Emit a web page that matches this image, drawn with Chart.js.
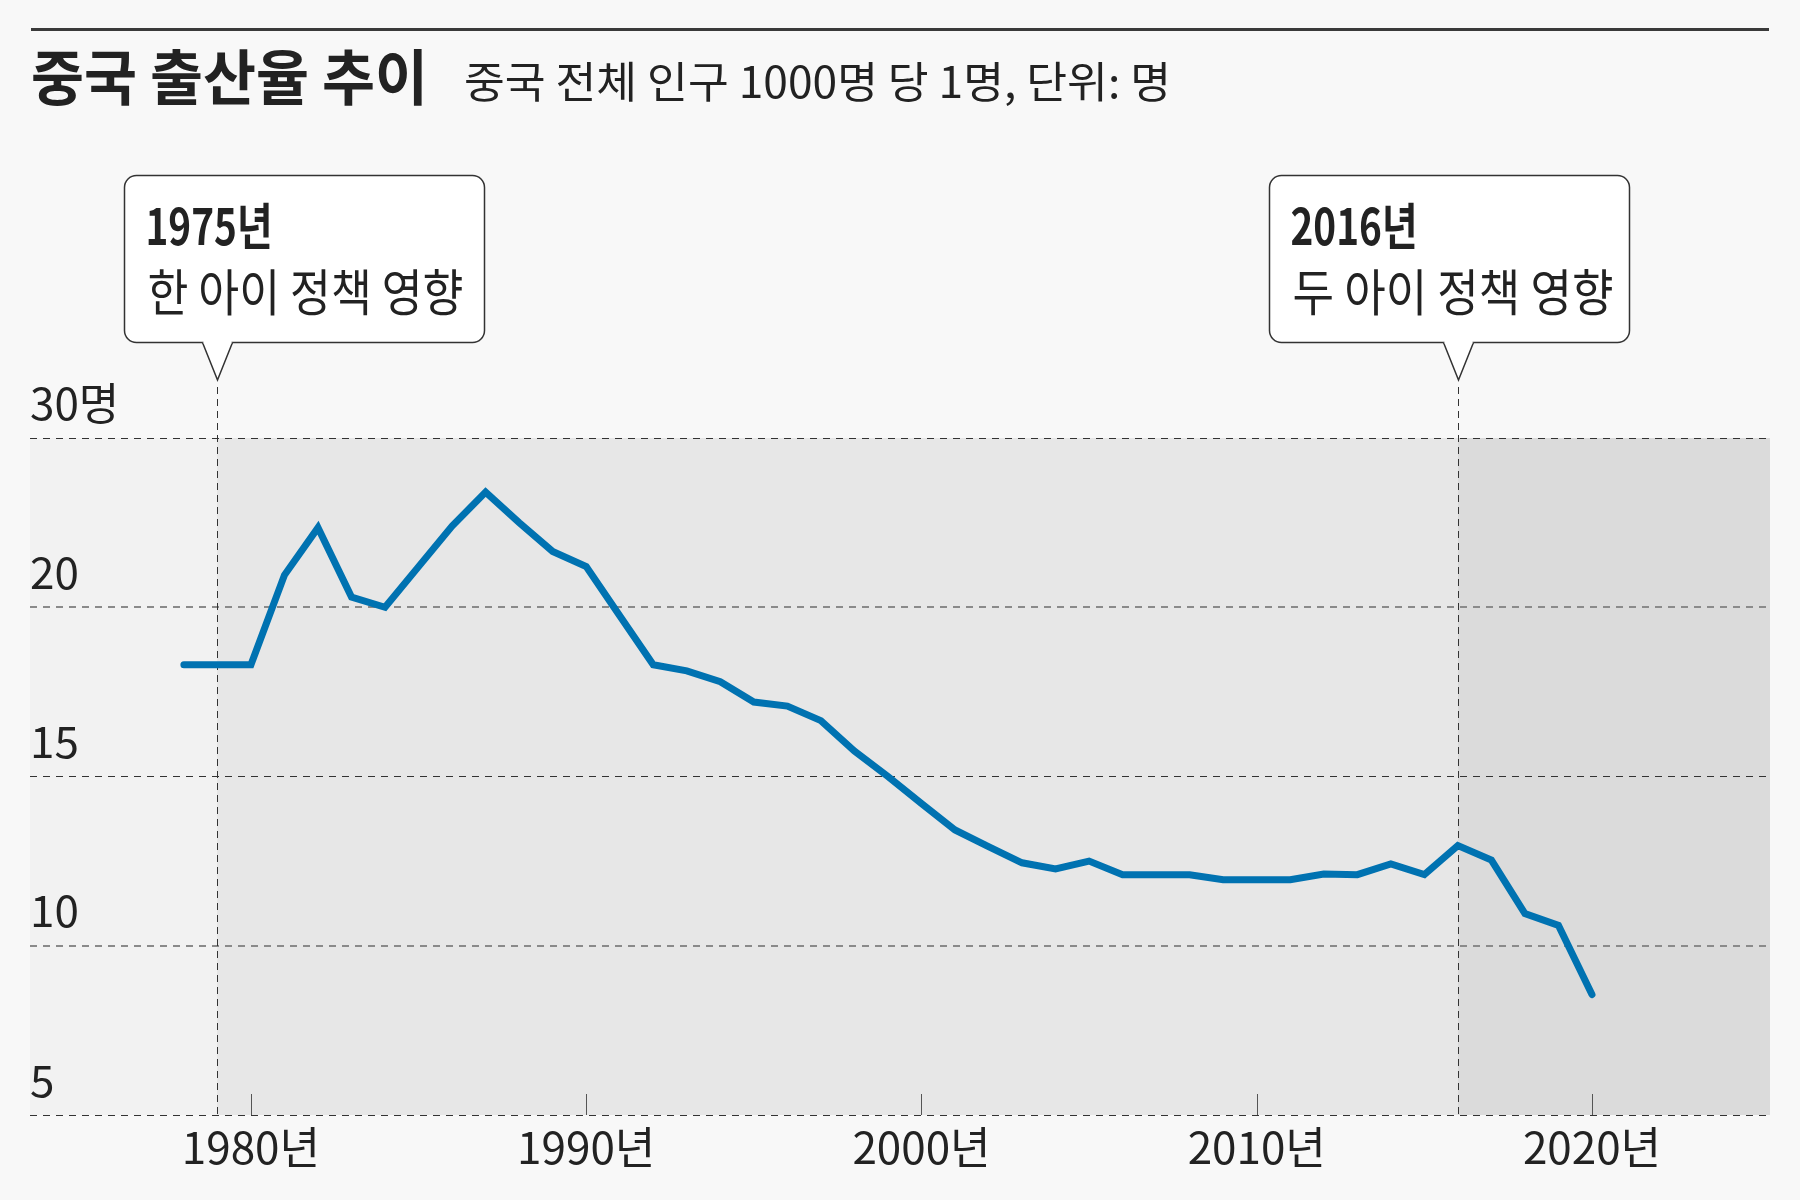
<!DOCTYPE html>
<html>
<head>
<meta charset="utf-8">
<script src="https://cdn.jsdelivr.net/npm/chart.js@4.4.1/dist/chart.umd.min.js"></script>
<style>
  html, body { margin: 0; padding: 0; background: #f8f8f8; }
  canvas { display: block; }
</style>
</head>
<body>
<canvas id="c" width="1800" height="1200" style="width:1800px;height:1200px"></canvas>
<script>
// ---- data ----
const years = [1978,1979,1980,1981,1982,1983,1984,1985,1986,1987,1988,1989,1990,1991,1992,1993,1994,1995,1996,1997,1998,1999,2000,2001,2002,2003,2004,2005,2006,2007,2008,2009,2010,2011,2012,2013,2014,2015,2016,2017,2018,2019,2020];
const birthRates = [18.3,18.3,18.3,20.95,22.35,20.3,20.0,21.2,22.4,23.4,22.5,21.65,21.2,19.75,18.3,18.12,17.8,17.2,17.08,16.65,15.75,15.0,14.2,13.42,12.93,12.45,12.27,12.5,12.1,12.1,12.1,11.95,11.95,11.95,12.12,12.1,12.42,12.1,12.96,12.53,10.95,10.6,8.56];
const xTickValues = [1980,1990,2000,2010,2020];
const xTickLabels = ['1980년','1990년','2000년','2010년','2020년'];
const yTickValues = [5,10,15,20,25];
const yTickLabels = ['5','10','15','20','30명'];
const markerYears = [1979, 2016];
const calloutTitles = ['1975년', '2016년'];
const calloutTexts = ['한 아이 정책 영향', '두 아이 정책 영향'];
const titleText = '중국 출산율 추이';
const subtitleText = '중국 전체 인구 1000명 당 1명, 단위: 명';

const KR = "'Noto Sans CJK KR', 'Noto Sans', sans-serif";

function fitText(ctx, text, x, y, font, color, width) {
  ctx.save();
  ctx.font = font;
  ctx.fillStyle = color;
  ctx.textAlign = 'left';
  ctx.textBaseline = 'alphabetic';
  const w = ctx.measureText(text).width;
  const sx = width ? width / w : 1;
  ctx.translate(x, y);
  ctx.scale(sx, 1);
  ctx.fillText(text, 0, 0);
  ctx.restore();
}

function roundRect(ctx, x, y, w, h, r) {
  ctx.beginPath();
  ctx.moveTo(x + r, y);
  ctx.lineTo(x + w - r, y);
  ctx.arcTo(x + w, y, x + w, y + r, r);
  ctx.lineTo(x + w, y + h - r);
  ctx.arcTo(x + w, y + h, x + w - r, y + h, r);
  ctx.lineTo(x + r, y + h);
  ctx.arcTo(x, y + h, x, y + h - r, r);
  ctx.lineTo(x, y + r);
  ctx.arcTo(x, y, x + r, y, r);
  ctx.closePath();
}

const decor = {
  id: 'decor',
  beforeDraw(chart) {
    const {ctx, chartArea: a, scales: {x}} = chart;
    ctx.save();
    ctx.fillStyle = '#f8f8f8';
    ctx.fillRect(0, 0, chart.width, chart.height);
    const p1 = Math.round(x.getPixelForValue(markerYears[0]));
    const p2 = Math.round(x.getPixelForValue(markerYears[1]));
    ctx.fillStyle = '#f2f2f2';
    ctx.fillRect(a.left, a.top, p1 - a.left, a.bottom - a.top);
    ctx.fillStyle = '#e7e7e7';
    ctx.fillRect(p1, a.top, p2 - p1, a.bottom - a.top);
    ctx.fillStyle = '#dbdbdb';
    ctx.fillRect(p2, a.top, a.right - p2, a.bottom - a.top);
    ctx.restore();
  },
  beforeDatasetsDraw(chart) {
    const {ctx, chartArea: a, scales: {x}} = chart;
    ctx.save();
    // decade tick marks
    ctx.strokeStyle = '#555';
    ctx.lineWidth = 1;
    xTickValues.forEach(v => {
      const px = Math.round(x.getPixelForValue(v)) + 0.5;
      ctx.beginPath();
      ctx.moveTo(px, a.bottom - 21);
      ctx.lineTo(px, a.bottom);
      ctx.stroke();
    });
    // policy marker lines
    ctx.strokeStyle = '#333';
    ctx.setLineDash([7, 5]);
    markerYears.forEach(v => {
      const px = Math.round(x.getPixelForValue(v)) + 0.5;
      ctx.beginPath();
      ctx.moveTo(px, 387);
      ctx.lineTo(px, a.bottom);
      ctx.stroke();
    });
    ctx.restore();
  },
  afterDraw(chart) {
    const {ctx, scales: {x}} = chart;
    ctx.save();
    // top rule
    ctx.fillStyle = '#3a3a3a';
    ctx.fillRect(31, 28, 1738, 3);
    // titles
    fitText(ctx, titleText, 31, 100, `bold 60px ${KR}`, '#222', 397);
    fitText(ctx, subtitleText, 464, 98, `400 43px ${KR}`, '#222', 707);
    // callouts
    const offsets = [-94, -190];
    markerYears.forEach((v, i) => {
      const tip = Math.round(x.getPixelForValue(v)) + 0.5;
      const bx = Math.round(tip + offsets[i]) + 0.5;
      const by = 175.5, bw = 360, bh = 167;
      roundRect(ctx, bx, by, bw, bh, 12);
      ctx.fillStyle = '#ffffff';
      ctx.fill();
      ctx.strokeStyle = '#333';
      ctx.lineWidth = 1.5;
      ctx.stroke();
      // pointer
      ctx.beginPath();
      ctx.moveTo(tip - 15, by + bh);
      ctx.lineTo(tip, 380);
      ctx.lineTo(tip + 15, by + bh);
      ctx.closePath();
      ctx.fillStyle = '#ffffff';
      ctx.fill();
      ctx.beginPath();
      ctx.moveTo(tip - 15, by + bh);
      ctx.lineTo(tip, 380);
      ctx.lineTo(tip + 15, by + bh);
      ctx.stroke();
      ctx.fillStyle = '#ffffff';
      ctx.fillRect(tip - 14, by + bh - 2, 28, 3);
      fitText(ctx, calloutTitles[i], bx + 21, 245, `bold 50px ${KR}`, '#222', 127);
      fitText(ctx, calloutTexts[i], bx + 23, 311, `400 50px ${KR}`, '#222', i === 0 ? 316 : 321);
    });
    ctx.restore();
  }
};

new Chart(document.getElementById('c'), {
  type: 'line',
  data: {
    datasets: [{
      data: years.map((yr, i) => ({x: yr, y: birthRates[i]})),
      borderColor: '#0072b1',
      borderWidth: 7,
      borderCapStyle: 'round',
      borderJoinStyle: 'miter',
      pointRadius: 0,
      tension: 0,
      fill: false
    }]
  },
  plugins: [decor],
  options: {
    responsive: false,
    animation: false,
    devicePixelRatio: 1,
    layout: { padding: { top: 438, left: 30, right: 30, bottom: 29 } },
    plugins: { legend: { display: false }, tooltip: { enabled: false } },
    scales: {
      x: {
        type: 'linear',
        min: 1973.41,
        max: 2025.31,
        afterBuildTicks: axis => { axis.ticks = xTickValues.map(v => ({value: v})); },
        ticks: {
          callback: v => xTickLabels[xTickValues.indexOf(v)],
          font: { family: KR, size: 44, lineHeight: 1.0 },
          color: '#222',
          padding: 2,
          maxRotation: 0,
          autoSkip: false
        },
        grid: { display: false },
        border: { display: false }
      },
      y: {
        min: 5,
        max: 25,
        afterBuildTicks: axis => { axis.ticks = yTickValues.map(v => ({value: v})); },
        ticks: {
          callback: v => yTickLabels[yTickValues.indexOf(v)],
          mirror: true,
          padding: 0,
          labelOffset: -35,
          font: { family: KR, size: 44, lineHeight: 1.0 },
          color: '#222',
          autoSkip: false
        },
        grid: {
          drawTicks: false,
          color: c => (c.tick && (c.tick.value === 10 || c.tick.value === 20)) ? '#8a8a8a' : '#333',
          lineWidth: c => (c.tick && (c.tick.value === 10 || c.tick.value === 20)) ? 2 : 1
        },
        border: { display: false, dash: [7, 6] }
      }
    }
  }
});
</script>
</body>
</html>
